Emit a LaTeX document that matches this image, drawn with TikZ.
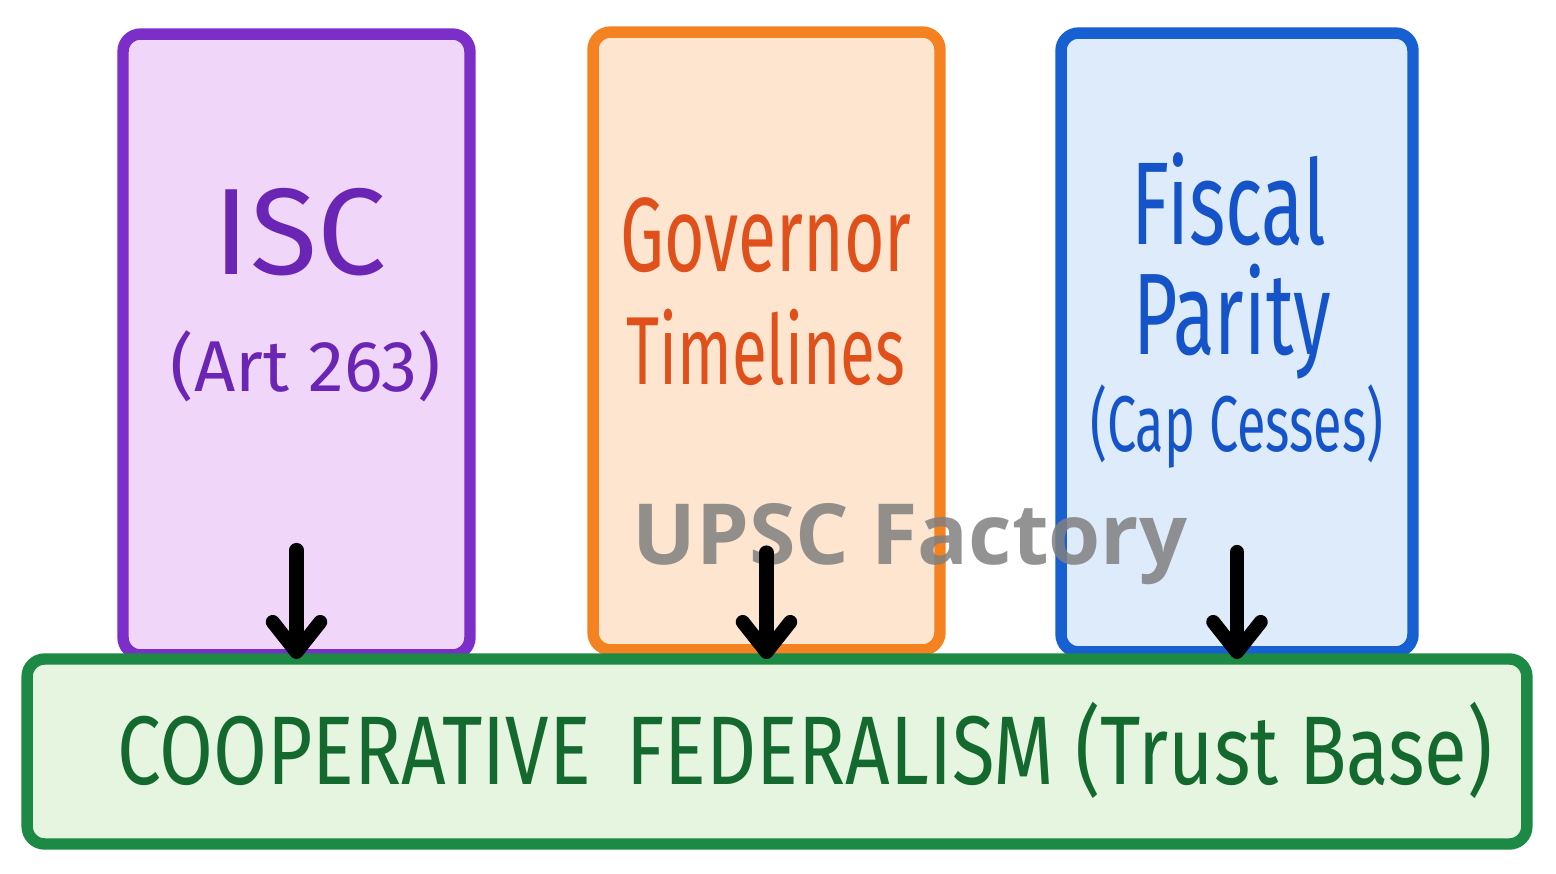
\documentclass[tikz,border=0pt]{standalone}
\usepackage{fontspec}
\usepackage{tikz}
\usetikzlibrary{arrows.meta}

\newfontfamily\handfont[FakeStretch=0.66]{Fira Sans}
\newfontfamily\basefont[FakeStretch=0.8]{Fira Sans}
\newfontfamily\widefont{Fira Sans}
\newfontfamily\markfont{Open Sans}

\definecolor{purp}{HTML}{7B2FC8}
\definecolor{purpfill}{HTML}{F0D7FA}
\definecolor{purptext}{HTML}{6A25B5}
\definecolor{oran}{HTML}{F58220}
\definecolor{oranfill}{HTML}{FDE5D0}
\definecolor{orantext}{HTML}{E0501B}
\definecolor{blu}{HTML}{1760D2}
\definecolor{blufill}{HTML}{DDEBFB}
\definecolor{blutext}{HTML}{1553C9}
\definecolor{gre}{HTML}{1C8A45}
\definecolor{grefill}{HTML}{E6F5DF}
\definecolor{gretext}{HTML}{14692F}

\tikzset{
	box/.style={draw, line width=6.5pt, rounded corners=0.35cm, outer sep=0pt},
	arr/.style={-{Straight Barb[length=6mm,width=9.5mm,round]}, line width=8pt, line cap=round, black}
}

\begin{document}
\begin{tikzpicture}[x=0.02cm,y=-0.02cm]
	\useasboundingbox (0,0) rectangle (1556,874);

	\node (A) [box, draw=purp, fill=purpfill, minimum width=6.94cm, minimum height=12.42cm] at (296.5,344.5) {};
	\node (B) [box, draw=oran, fill=oranfill, minimum width=6.94cm, minimum height=12.36cm] at (766.5,341) {};
	\node (C) [box, draw=blu, fill=blufill, minimum width=7.04cm, minimum height=12.38cm] at (1237,342.5) {};
	\node (D) [box, draw=gre, fill=grefill, minimum width=30cm, minimum height=3.7cm] at (777,751.5) {};

	\node (a1) [purptext, anchor=base, font=\widefont\fontsize{70}{80}\selectfont] at (300,275) {ISC};
	\node (a2) [purptext, anchor=base, font=\widefont\fontsize{41}{50}\selectfont] at (306,392) {(Art 263)};
	\node (b1) [orantext, anchor=base, font=\handfont\fontsize{60}{70}\selectfont] at (766,272) {Governor};
	\node (b2) [orantext, anchor=base, font=\handfont\fontsize{55}{65}\selectfont] at (766,385) {Timelines};
	\node (c1) [blutext, anchor=base, font=\handfont\fontsize{67}{77}\selectfont] at (1229,245) {Fiscal};
	\node (c2) [blutext, anchor=base, font=\handfont\fontsize{66}{76}\selectfont] at (1232,355) {Parity};
	\node (c3) [blutext, anchor=base, font=\handfont\fontsize{45}{55}\selectfont] at (1237,452) {(Cap Cesses)};
	\node (d) [gretext, anchor=base, font=\basefont\fontsize{55.5}{65}\selectfont] at (805,785) {COOPERATIVE\hspace{0.15em} FEDERALISM (Trust Base)};

	\node (W) [anchor=base, text=gray, opacity=0.85, font=\markfont\bfseries\fontsize{48}{58}\selectfont] at (910,565) {UPSC Factory};

	\draw [arr] ([yshift=2.1cm]A.south) to (A.south |- D.north);
	\draw [arr] ([yshift=1.95cm]B.south) to (B.south |- D.north);
	\draw [arr] ([yshift=2cm]C.south) to (C.south |- D.north);

\end{tikzpicture}
\end{document}
